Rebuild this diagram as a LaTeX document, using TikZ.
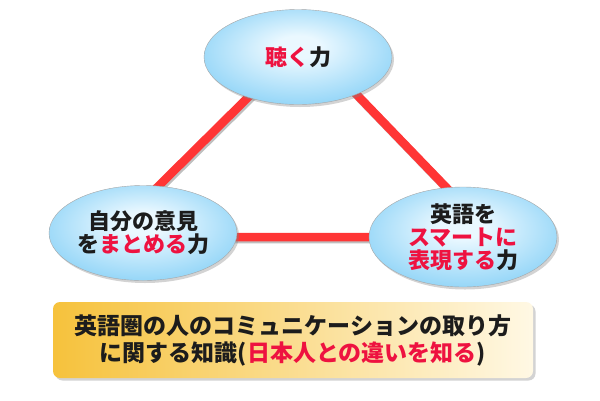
\documentclass[tikz,border=0pt]{standalone}
\usepackage{fontspec}
\setmainfont{Noto Sans CJK JP}[BoldFont={Noto Sans CJK JP Black}]
\usetikzlibrary{shapes.geometric,shadows,backgrounds}
\definecolor{skyedge}{HTML}{3DB6EE}
\definecolor{skymid}{HTML}{8DD3F7}
\definecolor{skycore}{HTML}{EAF8FF}
\definecolor{linered}{HTML}{FF3535}
\definecolor{textred}{HTML}{EE1240}
\definecolor{textdark}{HTML}{1C1C1C}
\definecolor{goldleft}{HTML}{F6C23C}
\definecolor{goldright}{HTML}{FFF8E4}
\pgfdeclareradialshading{bubble}{\pgfpoint{0bp}{6bp}}{color(0bp)=(skycore); color(6bp)=(skycore); color(30bp)=(skymid); color(46bp)=(skyedge); color(50bp)=(skyedge)}

\begin{document}
\begin{tikzpicture}[
  x=1pt,y=-1pt,
  skill/.style={ellipse,draw=gray!70,thin,shading=bubble,minimum width=188pt,minimum height=95pt,
    inner sep=0pt,align=center,text=textdark,font=\bfseries\fontsize{22}{23}\selectfont,
    drop shadow={shadow xshift=2pt,shadow yshift=-2.5pt,opacity=0.35}},
  banner/.style={rectangle,rounded corners=7pt,minimum width=480pt,minimum height=76pt,
    left color=goldleft,right color=goldright,align=center,text=textdark,
    font=\bfseries\fontsize{23}{27}\selectfont,
    drop shadow={shadow xshift=2.5pt,shadow yshift=-2.5pt,opacity=0.35}},
  link/.style={linered,line width=8.5pt,line join=round,
    preaction={draw=black!25,line width=8.5pt,transform canvas={xshift=1.5pt,yshift=-2pt}}}
]
\useasboundingbox (0,0) rectangle (600,400);

% three skills
\node[skill] (listen) at (298,57) {{\color{textred}聴く}力};
\node[skill] (opinion) at (143,233) {自分の意見\\を{\color{textred}まとめる}力};
\node[skill,minimum height=100pt] (express) at (463,237) {英語を\\{\color{textred}スマートに}\\{\color{textred}表現する}力};

% corners of the triangle, hidden inside the ellipses
\coordinate (apex) at (305,41);
\coordinate (leftend) at (107,237);
\coordinate (rightend) at (494,237);

\begin{scope}[on background layer]
\draw[link] (apex) -- (leftend) -- (rightend) -- cycle;
\end{scope}

% background knowledge
\node[banner] (culture) at (293,340) {英語圏の人のコミュニケーションの取り方\\に関する知識({\color{textred}日本人との違いを知る})};
\end{tikzpicture}
\end{document}
